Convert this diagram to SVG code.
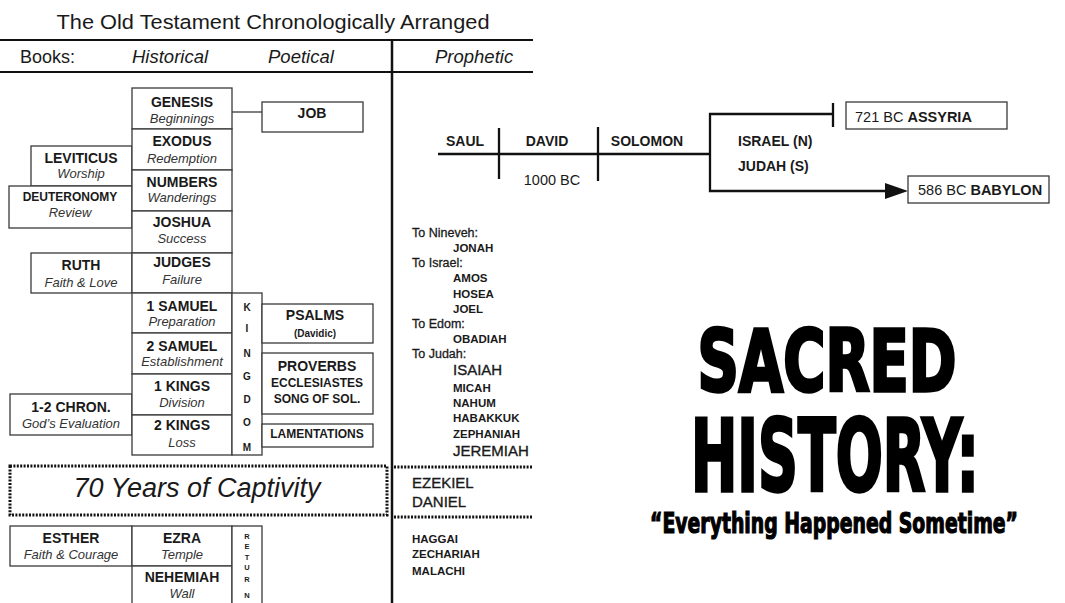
<svg xmlns="http://www.w3.org/2000/svg" width="1065" height="603" viewBox="0 0 1065 603">
<style>
text{font-family:"Liberation Sans",Arial,sans-serif;fill:#1a1a1a}
.box{fill:#fff;stroke:#3a3a3a;stroke-width:1.3}
.n{font-weight:bold;font-size:14px;text-anchor:middle}
.ns{font-weight:bold;font-size:12px;text-anchor:middle}
.s{font-style:italic;font-size:13px;text-anchor:middle;fill:#333}
.hd{font-style:italic;font-size:18.5px}
.k{font-weight:bold;font-size:10px;text-anchor:middle}
.r{font-weight:bold;font-size:7.5px;text-anchor:middle}
.dot{fill:none;stroke:#111;stroke-width:3;stroke-dasharray:2 1.4}
.tl{stroke:#111;stroke-width:2.3;fill:none}
.p{font-weight:bold;font-size:11.5px}
.pl{font-size:12.5px;stroke:#1a1a1a;stroke-width:0.3}
.pb{font-size:15px;stroke:#1a1a1a;stroke-width:0.35}
.big{font-family:Impact,"Liberation Sans Narrow","DejaVu Sans Condensed","Liberation Sans",sans-serif;font-weight:bold;fill:#000;stroke:#000;text-anchor:middle}
</style>
<rect width="1065" height="603" fill="#fff"/>

<g id="header">
<text x="273" y="29" font-size="20.5" text-anchor="middle" textLength="433" lengthAdjust="spacingAndGlyphs">The Old Testament Chronologically Arranged</text>
<line x1="0" y1="40" x2="533" y2="40" stroke="#111" stroke-width="2"/>
<line x1="0" y1="72" x2="533" y2="72" stroke="#111" stroke-width="2"/>
<line x1="392" y1="40" x2="392" y2="603" stroke="#111" stroke-width="2.5"/>
<text x="20" y="63" font-size="18">Books:</text>
<text class="hd" x="132" y="63">Historical</text>
<text class="hd" x="268" y="63">Poetical</text>
<text class="hd" x="435" y="63">Prophetic</text>
</g>

<g id="connectors">
<line x1="232" y1="112" x2="262" y2="112" stroke="#3a3a3a" stroke-width="1.3"/>
<line class="tl" x1="438" y1="154" x2="710" y2="154"/>
<line class="tl" x1="499" y1="128" x2="499" y2="179"/>
<line class="tl" x1="598" y1="127" x2="598" y2="181"/>
<polyline class="tl" points="833,114 710,114 710,191 888,191"/>
<line class="tl" x1="833" y1="103" x2="833" y2="127"/>
<polygon points="908,191 885,183 885,199" fill="#111"/>
</g>

<g id="leviticus"><rect class="box" x="31" y="146" width="101" height="40"/><text class="n" x="81" y="163">LEVITICUS</text><text class="s" x="81" y="178">Worship</text></g>
<g id="deuteronomy"><rect class="box" x="9" y="186" width="123" height="42"/><text class="ns" x="70" y="201">DEUTERONOMY</text><text class="s" x="70" y="217">Review</text></g>
<g id="ruth"><rect class="box" x="31" y="253" width="101" height="40"/><text class="n" x="81" y="270">RUTH</text><text class="s" x="81" y="287">Faith &amp; Love</text></g>
<g id="chronicles"><rect class="box" x="10" y="394" width="122" height="41"/><text class="n" x="71" y="412">1-2 CHRON.</text><text class="s" x="71" y="428">God’s Evaluation</text></g>

<g id="genesis"><rect class="box" x="132" y="88" width="100" height="41"/><text class="n" x="182" y="107">GENESIS</text><text class="s" x="182" y="123">Beginnings</text></g>
<g id="exodus"><rect class="box" x="132" y="129" width="100" height="41"/><text class="n" x="182" y="146">EXODUS</text><text class="s" x="182" y="163">Redemption</text></g>
<g id="numbers"><rect class="box" x="132" y="170" width="100" height="41"/><text class="n" x="182" y="187">NUMBERS</text><text class="s" x="182" y="202">Wanderings</text></g>
<g id="joshua"><rect class="box" x="132" y="211" width="100" height="42"/><text class="n" x="182" y="227">JOSHUA</text><text class="s" x="182" y="243">Success</text></g>
<g id="judges"><rect class="box" x="132" y="253" width="100" height="40"/><text class="n" x="182" y="267">JUDGES</text><text class="s" x="182" y="284">Failure</text></g>
<g id="samuel1"><rect class="box" x="132" y="293" width="100" height="40"/><text class="n" x="182" y="311">1 SAMUEL</text><text class="s" x="182" y="326">Preparation</text></g>
<g id="samuel2"><rect class="box" x="132" y="333" width="100" height="41"/><text class="n" x="182" y="351">2 SAMUEL</text><text class="s" x="182" y="366">Establishment</text></g>
<g id="kings1"><rect class="box" x="132" y="374" width="100" height="41"/><text class="n" x="182" y="391">1 KINGS</text><text class="s" x="182" y="407">Division</text></g>
<g id="kings2"><rect class="box" x="132" y="415" width="100" height="40"/><text class="n" x="182" y="430">2 KINGS</text><text class="s" x="182" y="447">Loss</text></g>

<g id="kingdom"><rect class="box" x="232" y="293" width="30" height="162"/>
<text class="k" x="247" y="311">K</text><text class="k" x="247" y="332">I</text><text class="k" x="247" y="357">N</text><text class="k" x="247" y="380">G</text><text class="k" x="247" y="403">D</text><text class="k" x="247" y="426">O</text><text class="k" x="247" y="451">M</text></g>

<g id="job"><rect class="box" x="262" y="102" width="101" height="30"/><text class="n" x="312" y="118">JOB</text></g>
<g id="psalms"><rect class="box" x="262" y="304" width="111" height="39"/><text class="n" x="315" y="320">PSALMS</text><text class="k" x="315" y="337">(Davidic)</text></g>
<g id="proverbs"><rect class="box" x="262" y="353" width="111" height="61"/><text class="n" x="317" y="371">PROVERBS</text><text class="ns" x="317" y="387" font-size="11.5">ECCLESIASTES</text><text class="ns" x="317" y="403" font-size="11.5">SONG OF SOL.</text></g>
<g id="lamentations"><rect class="box" x="262" y="424" width="111" height="23"/><text class="ns" x="317" y="438" font-size="10.5">LAMENTATIONS</text></g>

<g id="captivity"><rect class="dot" x="10" y="466" width="377" height="49"/><text x="197" y="497" font-size="27" font-style="italic" text-anchor="middle">70 Years of Captivity</text></g>

<g id="esther"><rect class="box" x="10" y="526" width="122" height="40"/><text class="n" x="71" y="543">ESTHER</text><text class="s" x="71" y="559">Faith &amp; Courage</text></g>
<g id="ezra"><rect class="box" x="132" y="526" width="100" height="40"/><text class="n" x="182" y="543">EZRA</text><text class="s" x="182" y="559">Temple</text></g>
<g id="nehemiah"><rect class="box" x="132" y="566" width="100" height="44"/><text class="n" x="182" y="582">NEHEMIAH</text><text class="s" x="182" y="598">Wall</text></g>
<g id="return"><rect class="box" x="232" y="526" width="30" height="84"/>
<text class="r" x="247" y="539">R</text><text class="r" x="247" y="549">E</text><text class="r" x="247" y="560">T</text><text class="r" x="247" y="570">U</text><text class="r" x="247" y="582">R</text><text class="r" x="247" y="598">N</text></g>

<g id="kings-timeline">
<text class="n" x="465" y="146">SAUL</text>
<text class="n" x="547" y="146">DAVID</text>
<text class="n" x="647" y="146">SOLOMON</text>
<text x="552" y="185" font-size="14.5" text-anchor="middle" fill="#333">1000 BC</text>
<text x="738" y="146" font-size="14" font-weight="bold">ISRAEL (N)</text>
<text x="738" y="171" font-size="14" font-weight="bold">JUDAH (S)</text>
</g>
<g id="assyria"><rect class="box" x="846" y="102" width="161" height="27"/><text x="855" y="122" font-size="14.5">721 BC <tspan font-weight="bold">ASSYRIA</tspan></text></g>
<g id="babylon"><rect class="box" x="908" y="176" width="141" height="27"/><text x="918" y="195" font-size="14.5">586 BC <tspan font-weight="bold">BABYLON</tspan></text></g>

<g id="prophets">
<text class="pl" x="412" y="237">To Nineveh:</text>
<text class="p" x="453" y="252">JONAH</text>
<text class="pl" x="412" y="267">To Israel:</text>
<text class="p" x="453" y="282">AMOS</text>
<text class="p" x="453" y="298">HOSEA</text>
<text class="p" x="453" y="313">JOEL</text>
<text class="pl" x="412" y="328">To Edom:</text>
<text class="p" x="453" y="343">OBADIAH</text>
<text class="pl" x="412" y="358">To Judah:</text>
<text class="pb" x="453" y="375">ISAIAH</text>
<text class="p" x="453" y="392">MICAH</text>
<text class="p" x="453" y="407">NAHUM</text>
<text class="p" x="453" y="422">HABAKKUK</text>
<text class="p" x="453" y="438">ZEPHANIAH</text>
<text class="pb" x="453" y="456">JEREMIAH</text>
<line class="dot" x1="394" y1="467" x2="533" y2="467"/>
<text class="pb" x="412" y="488">EZEKIEL</text>
<text class="pb" x="412" y="507">DANIEL</text>
<line class="dot" x1="394" y1="517" x2="533" y2="517"/>
<text class="p" x="412" y="543">HAGGAI</text>
<text class="p" x="412" y="558">ZECHARIAH</text>
<text class="p" x="412" y="575">MALACHI</text>
</g>

<g id="title">
<text class="big" transform="translate(827,391) scale(1,1.3)" font-size="66" stroke-width="2.6" textLength="259" lengthAdjust="spacingAndGlyphs">SACRED</text>
<text class="big" transform="translate(835,491) scale(1,1.3)" font-size="77" stroke-width="2.6" textLength="288" lengthAdjust="spacingAndGlyphs">HISTORY:</text>
<text class="big" transform="translate(834,533) scale(1,1.15)" font-size="24" stroke-width="1" textLength="368" lengthAdjust="spacingAndGlyphs">“Everything Happened Sometime”</text>
</g>
</svg>
